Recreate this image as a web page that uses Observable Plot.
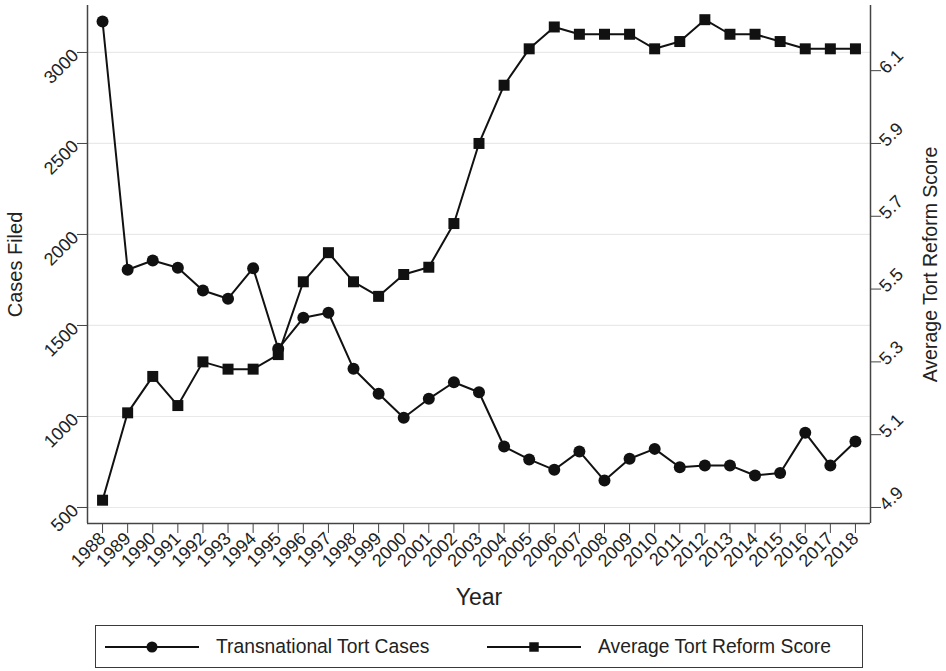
<!DOCTYPE html>
<html>
<head>
<meta charset="utf-8">
<script src="https://cdn.jsdelivr.net/npm/d3@7"></script>
<script src="https://cdn.jsdelivr.net/npm/@observablehq/plot@0.6"></script>
<style>
  body { margin: 0; background: #fff; font-family: "Liberation Sans", Arial, Helvetica, sans-serif; }
  #wrap { position: relative; width: 946px; height: 671px; }
  #legend { position: absolute; left: 95px; top: 625px; width: 768px; height: 43px;
            border: 1.5px solid #3a3a3a; box-sizing: border-box; }
  #legend .item { position: absolute; top: 0; height: 100%; display: flex; align-items: center; }
  #legend span { font-size: 19.3px; color: #222; margin-left: 16px; white-space: nowrap; }
</style>
</head>
<body>
<div id="wrap">
  <div id="chart"></div>
  <div id="legend"></div>
</div>
<script>
// ---- data ----
const years = [1988,1989,1990,1991,1992,1993,1994,1995,1996,1997,1998,1999,2000,2001,2002,2003,
               2004,2005,2006,2007,2008,2009,2010,2011,2012,2013,2014,2015,2016,2017,2018];
const cases = [3170,1806,1857,1817,1692,1647,1815,1372,1542,1570,1262,1125,993,1097,1188,1133,
               835,764,707,808,648,768,822,721,731,731,676,689,910,731,863];
const scores = [4.92,5.16,5.26,5.18,5.30,5.28,5.28,5.32,5.52,5.60,5.52,5.48,5.54,5.56,5.68,5.90,
                6.06,6.16,6.22,6.20,6.20,6.20,6.16,6.18,6.24,6.20,6.20,6.18,6.16,6.16,6.16];
const leftTicks = [500,1000,1500,2000,2500,3000];
const rightTicks = [4.9,5.1,5.3,5.5,5.7,5.9,6.1];
const seriesNames = ["Transnational Tort Cases","Average Tort Reform Score"];
const axisTitles = {x: "Year", left: "Cases Filed", right: "Average Tort Reform Score"};

// ---- scales ----
const xDomain = [1987.4, 2018.6];
const yDomain = [412, 3258];
// right axis (score) expressed in left-axis units
const toLeft = s => 500 + (s - 4.9) * 2000;
const fromLeft = c => (c - 500) / 2000 + 4.9;

const caseData = years.map((y, i) => ({year: y, value: cases[i]}));
const scoreData = years.map((y, i) => ({year: y, value: toLeft(scores[i])}));

const ink = "#111";
const axisInk = "#444";
const tickFont = 18;

const chart = Plot.plot({
  width: 946,
  height: 615,
  marginTop: 5,
  marginBottom: 92,
  marginLeft: 87,
  marginRight: 76,
  style: {fontFamily: '"Liberation Sans", Arial, sans-serif', color: "#222", background: "#fff"},
  x: {domain: xDomain},
  y: {domain: yDomain},
  marks: [
    Plot.gridY(leftTicks, {stroke: "#e9e9e9", strokeOpacity: 1, strokeWidth: 1.2}),
    Plot.ruleX([xDomain[0]], {stroke: axisInk, strokeWidth: 1.5}),
    Plot.ruleX([xDomain[1]], {stroke: axisInk, strokeWidth: 1.5}),
    Plot.ruleY([yDomain[0]], {stroke: axisInk, strokeWidth: 1.5}),
    Plot.axisY(leftTicks, {anchor: "left", tickSize: 10, tickPadding: 2, tickRotate: -45,
      fontSize: tickFont, stroke: axisInk, label: null, tickFormat: d => String(d)}),
    Plot.axisY(rightTicks.map(toLeft), {anchor: "right", tickSize: 10, tickPadding: 2, tickRotate: -45,
      fontSize: tickFont, stroke: axisInk, label: null, tickFormat: d => fromLeft(d).toFixed(1)}),
    Plot.axisX(years, {anchor: "bottom", tickSize: 10, tickPadding: 2, tickRotate: -45,
      fontSize: tickFont, stroke: axisInk, label: null, tickFormat: d => String(d)}),
    Plot.text([axisTitles.left], {frameAnchor: "left", dx: -72, rotate: -90, textAnchor: "middle",
      fontSize: 20, fill: "#222"}),
    Plot.text([axisTitles.right], {frameAnchor: "right", dx: 60, rotate: -90, textAnchor: "middle",
      fontSize: 19.5, fill: "#222"}),
    Plot.text([axisTitles.x], {frameAnchor: "bottom", dy: 81, fontSize: 23, fill: "#222"}),
    Plot.line(scoreData, {x: "year", y: "value", stroke: ink, strokeWidth: 2}),
    Plot.dot(scoreData, {x: "year", y: "value", symbol: "square", r: 6.2, fill: ink, stroke: "none"}),
    Plot.line(caseData, {x: "year", y: "value", stroke: ink, strokeWidth: 2}),
    Plot.dot(caseData, {x: "year", y: "value", symbol: "circle", r: 6, fill: ink, stroke: "none"})
  ]
});
document.getElementById("chart").appendChild(chart);

// ---- legend ----
const legend = d3.select("#legend");
const items = [
  {name: seriesNames[0], symbol: d3.symbolCircle, left: 8},
  {name: seriesNames[1], symbol: d3.symbolSquare, left: 390}
];
items.forEach(it => {
  const div = legend.append("div").attr("class", "item").style("left", it.left + "px");
  const svg = div.append("svg").attr("width", 96).attr("height", 20);
  svg.append("line").attr("x1", 1).attr("x2", 95).attr("y1", 10).attr("y2", 10)
     .attr("stroke", ink).attr("stroke-width", 2);
  svg.append("path").attr("transform", "translate(48,10)")
     .attr("d", d3.symbol(it.symbol, it.symbol === d3.symbolSquare ? 90 : 95)()).attr("fill", ink);
  div.append("span").text(it.name);
});
</script>
</body>
</html>
